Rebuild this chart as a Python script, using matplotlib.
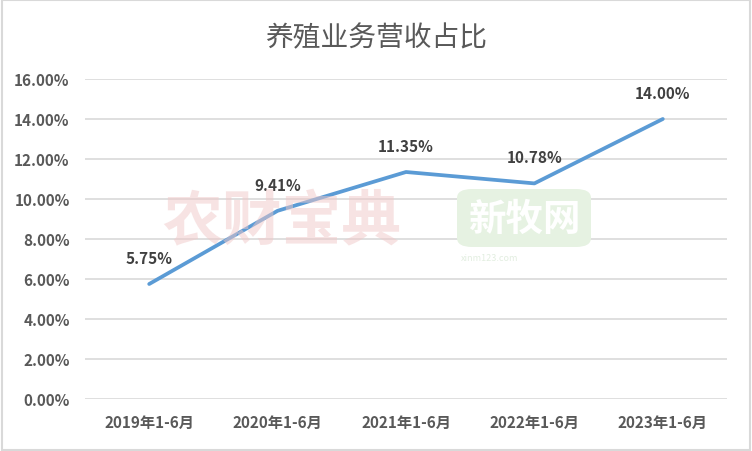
import matplotlib
matplotlib.use("Agg")
import matplotlib.pyplot as plt
from matplotlib.patches import FancyBboxPatch, Rectangle
from matplotlib.ticker import FuncFormatter, MultipleLocator

plt.rcParams['font.family'] = ['Noto Sans CJK SC', 'DejaVu Sans']

# data
periods = ["2019年1-6月", "2020年1-6月", "2021年1-6月", "2022年1-6月", "2023年1-6月"]
share = [5.75, 9.41, 11.35, 10.78, 14.00]

fig = plt.figure(figsize=(7.52, 4.52), dpi=100)
ax = fig.add_axes([85 / 752, 52 / 452, 642 / 752, 320 / 452])

x = list(range(len(periods)))
ax.plot(x, share, color="#5B9BD5", lw=2.7, solid_capstyle="round", zorder=3)

for xi, v in zip(x, share):
    ax.annotate(f"{v:.2f}%", (xi, v), xytext=(0, 13), textcoords="offset points",
                ha="center", va="bottom", fontsize=11, fontweight="bold",
                color="#404040", zorder=4)

ax.set_xlim(-0.5, len(periods) - 0.5)
ax.set_ylim(0, 16)
ax.yaxis.set_major_locator(MultipleLocator(2))
ax.yaxis.set_major_formatter(FuncFormatter(lambda v, p: f"{v:.2f}%"))
ax.set_xticks(x)
ax.set_xticklabels(periods)
ax.grid(axis="y", color="#D9D9D9", lw=1.2)
ax.set_axisbelow(True)
for s in ax.spines.values():
    s.set_visible(False)
ax.tick_params(length=0, colors="#595959", labelsize=11, pad=11)
ax.tick_params(axis="y", pad=11)
for lab in ax.get_xticklabels() + ax.get_yticklabels():
    lab.set_fontweight("bold")

# watermarks
fig.text(282 / 752, 1 - 223 / 452, "农财宝典", ha="center", va="center",
         fontsize=43, fontweight="black", color="#F0C8C8", alpha=0.5, zorder=5)
box = FancyBboxPatch((457 / 752, 1 - 248 / 452), 134 / 752, 58 / 452,
                     boxstyle="round,pad=0,rounding_size=0.02",
                     transform=fig.transFigure, fc="#E6F2E2", ec="none", zorder=1)
fig.patches.append(box)
fig.text(524 / 752, 1 - 219 / 452, "新牧网", ha="center", va="center",
         fontsize=27, fontweight="bold", color="white", zorder=2)
fig.text(490 / 752, 1 - 259 / 452, "xinm123.com", ha="center", va="center",
         fontsize=6.5, color="#E2EEE0", zorder=2)

fig.text(0.5, 1 - 38 / 452, "养殖业务营收占比", ha="center", va="center",
         fontsize=20, color="#595959")

fig.patches.append(Rectangle((0.002, 0.003), 0.995, 0.994, transform=fig.transFigure,
                             fill=False, ec="#D9D9D9", lw=1.5))

fig.savefig("out.png", dpi=100)
